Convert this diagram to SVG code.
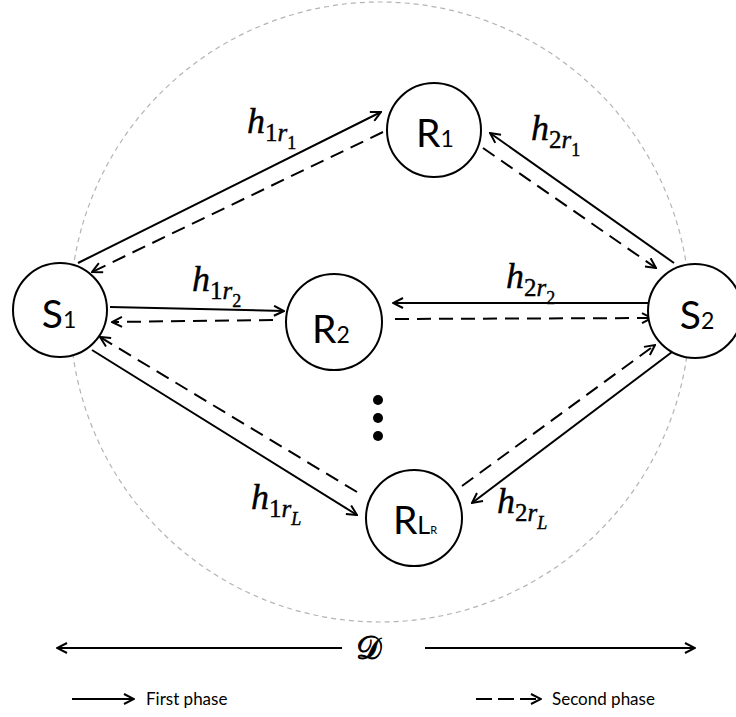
<svg xmlns="http://www.w3.org/2000/svg" width="736" height="717" viewBox="0 0 736 717">
  <defs>
    <marker id="arr" viewBox="0 0 12 12" refX="11" refY="6" markerWidth="12" markerHeight="12" markerUnits="userSpaceOnUse" orient="auto">
      <path d="M1,1 L11,6 L1,11" fill="none" stroke="#000" stroke-width="2"/>
    </marker>
  </defs>
  <style>
    .node { fill: #fff; stroke: #000; stroke-width: 2; }
    .nl { font-family: Lato, "Liberation Sans", sans-serif; fill: #000; }
    .big { font-size: 39px; }
    .sub { font-size: 23px; }
    .solid { stroke: #000; stroke-width: 2; fill: none; marker-end: url(#arr); }
    .dash { stroke: #000; stroke-width: 2; fill: none; stroke-dasharray: 14 8; marker-end: url(#arr); }
    .m { font-family: "Liberation Serif", "Times New Roman", serif; font-size: 36px; fill: #000; stroke: #000; stroke-width: 0.4; }
    .it { font-style: italic; }
    .s1 { font-size: 25px; }
    .s2 { font-size: 18px; }
    .leg { font-family: Lato, "Liberation Sans", sans-serif; font-size: 17px; fill: #000; }
  </style>
  <rect width="736" height="717" fill="#fff"/>

  <!-- coverage region -->
  <circle cx="380" cy="312" r="310" fill="none" stroke="#b4b4b4" stroke-width="1.2" stroke-dasharray="5 4"/>

  <!-- links -->
  <g id="connectors">
    <line class="solid" x1="78" y1="263" x2="381" y2="112"/>
    <line class="dash" x1="383" y1="132" x2="92" y2="272"/>
    <line class="solid" x1="674" y1="263" x2="490" y2="133"/>
    <line class="dash" x1="483" y1="148" x2="656" y2="268"/>
    <line class="solid" x1="110" y1="307" x2="284" y2="311"/>
    <line class="dash" x1="273" y1="320" x2="112" y2="322"/>
    <line class="solid" x1="652" y1="303" x2="393" y2="303"/>
    <line class="dash" x1="395" y1="319" x2="652" y2="318"/>
    <line class="solid" x1="92" y1="350" x2="357" y2="515"/>
    <line class="dash" x1="357" y1="492" x2="100" y2="337"/>
    <line class="solid" x1="672" y1="352" x2="472" y2="503"/>
    <line class="dash" x1="462" y1="486" x2="655" y2="345"/>
  </g>

  <!-- channel labels -->
  <g id="channel-labels">
    <text class="m" x="247" y="133"><tspan class="it">h</tspan><tspan class="s1" dy="8">1</tspan><tspan class="s1 it">r</tspan><tspan class="s2" dy="8">1</tspan></text>
    <text class="m" x="531" y="140"><tspan class="it">h</tspan><tspan class="s1" dy="8">2</tspan><tspan class="s1 it">r</tspan><tspan class="s2" dy="8">1</tspan></text>
    <text class="m" x="192" y="291"><tspan class="it">h</tspan><tspan class="s1" dy="8">1</tspan><tspan class="s1 it">r</tspan><tspan class="s2" dy="8">2</tspan></text>
    <text class="m" x="506" y="288"><tspan class="it">h</tspan><tspan class="s1" dy="8">2</tspan><tspan class="s1 it">r</tspan><tspan class="s2" dy="8">2</tspan></text>
    <text class="m" x="251" y="509"><tspan class="it">h</tspan><tspan class="s1" dy="8">1</tspan><tspan class="s1 it">r</tspan><tspan class="s2 it" dy="8">L</tspan></text>
    <text class="m" x="497" y="513"><tspan class="it">h</tspan><tspan class="s1" dy="8">2</tspan><tspan class="s1 it">r</tspan><tspan class="s2 it" dy="8">L</tspan></text>
  </g>

  <!-- source S1 -->
  <g id="S1">
    <circle class="node" cx="60" cy="310" r="47"/>
    <text class="nl" x="59" y="328" text-anchor="middle"><tspan class="big">S</tspan><tspan class="sub">1</tspan></text>
  </g>

  <!-- source S2 -->
  <g id="S2">
    <circle class="node" cx="695" cy="311" r="47"/>
    <text class="nl" x="697" y="329" text-anchor="middle"><tspan class="big">S</tspan><tspan class="sub">2</tspan></text>
  </g>

  <!-- relay R1 -->
  <g id="R1">
    <circle class="node" cx="434" cy="130" r="47"/>
    <text class="nl" x="435" y="147" text-anchor="middle"><tspan class="big">R</tspan><tspan class="sub">1</tspan></text>
  </g>

  <!-- relay R2 -->
  <g id="R2">
    <circle class="node" cx="334" cy="322" r="48"/>
    <text class="nl" x="331" y="343" text-anchor="middle"><tspan class="big">R</tspan><tspan class="sub">2</tspan></text>
  </g>

  <!-- relay RL -->
  <g id="RL">
    <circle class="node" cx="414" cy="518" r="48"/>
    <text class="nl" x="415" y="534" text-anchor="middle"><tspan class="big">R</tspan><tspan style="font-size:25px">L</tspan><tspan style="font-size:11px">R</tspan></text>
  </g>

  <!-- ellipsis between relays -->
  <g id="ellipsis" fill="#000">
    <circle cx="378" cy="400" r="5"/>
    <circle cx="378" cy="418" r="5"/>
    <circle cx="378" cy="436" r="5"/>
  </g>

  <!-- distance marker -->
  <g id="distance">
    <line class="solid" x1="342" y1="648" x2="57" y2="648"/>
    <line class="solid" x1="425" y1="648" x2="695" y2="648"/>
    <text x="356" y="659" font-family="'DejaVu Serif', 'DejaVu Sans', serif" font-size="32" stroke="#000" stroke-width="0.9">𝒟</text>
  </g>

  <!-- legend -->
  <g id="legend">
    <line class="solid" x1="72" y1="699" x2="134" y2="699"/>
    <text class="leg" x="146" y="705">First phase</text>
    <line class="dash" x1="476" y1="699" x2="541" y2="699" style="stroke-dasharray:16 6"/>
    <text class="leg" x="552" y="705">Second phase</text>
  </g>
</svg>
